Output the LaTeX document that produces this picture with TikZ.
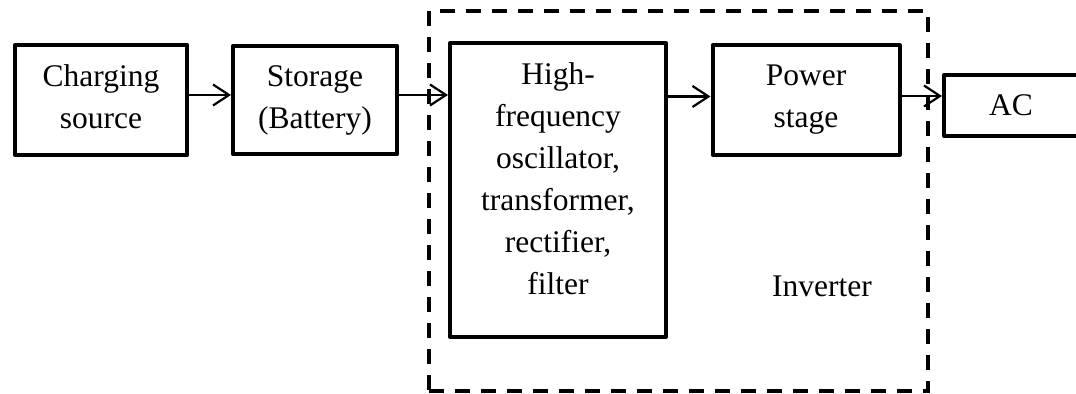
\documentclass[tikz,border=0pt]{standalone}
\usepackage{fontspec}
\setmainfont{Liberation Serif}
\usetikzlibrary{arrows.meta}
\begin{document}
\begin{tikzpicture}[x=0.5pt,y=-0.5pt,
  box/.style={draw, line width=2pt, line join=round, inner sep=0pt, align=center, font=\fontsize{15.75}{21}\selectfont},
  lbl/.style={font=\fontsize{15.75}{21}\selectfont, align=center, inner sep=0pt},
  arr/.style={line width=1.1pt, -{Straight Barb[length=8pt,width=10.5pt]}},
  frame/.style={draw, line width=2pt, dash pattern=on 7.5pt off 5.5pt, inner sep=0pt}]
\useasboundingbox (0,0) rectangle (1076,394);
\clip (0,0) rectangle (1076,394);
\node[frame, minimum width=249.5pt, minimum height=190pt] (invbox) at (678.5,201) {};
\node[box, text depth=3.4pt, minimum width=86pt, minimum height=55.25pt] (cs) at (101,100) {Charging\\source};
\node[box, minimum width=82pt, minimum height=54.25pt] (st) at (315,100) {Storage\\(Battery)};
\node[box, minimum width=108pt, minimum height=147pt] (hf) at (558,190) {};
\node[lbl] (hft) at (558,179) {High-\\frequency\\oscillator,\\transformer,\\rectifier,\\filter};
\node[box, minimum width=93.5pt, minimum height=54.75pt] (pw) at (806,100) {Power\\stage};
\node[box, minimum width=67pt, minimum height=30.5pt] (ac) at (1011,105.5) {AC};
\node[lbl, anchor=base] (inv) at (822,297) {Inverter};
\draw[arr] ([yshift=2.5pt]cs.east) -- ([yshift=2.5pt]st.west);
\coordinate (a2) at ([yshift=2.5pt]st.east);
\draw[arr] (a2) -- (hf.west |- a2);
\coordinate (a3) at ([yshift=1.75pt]pw.west);
\draw[arr] (hf.east |- a3) -- (a3);
\coordinate (a4) at ([yshift=2pt]pw.east);
\draw[arr] (a4) -- (ac.west |- a4);
\end{tikzpicture}
\end{document}
